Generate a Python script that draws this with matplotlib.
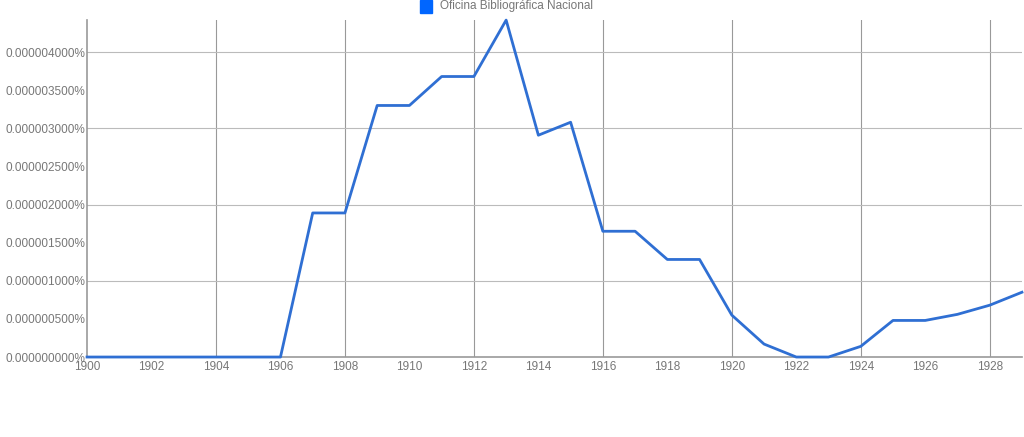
import numpy as np
import matplotlib.pyplot as plt
from matplotlib.patches import Rectangle

years = list(range(1900, 1930))
# frequency in percent
freq = [0, 0, 0, 0, 0, 0, 0,
        1.89e-6, 1.89e-6, 3.30e-6, 3.30e-6, 3.68e-6, 3.68e-6, 4.42e-6,
        2.91e-6, 3.08e-6, 1.65e-6, 1.65e-6, 1.28e-6, 1.28e-6,
        0.55e-6, 0.17e-6, 0.0, 0.0, 0.14e-6, 0.48e-6, 0.48e-6,
        0.56e-6, 0.68e-6, 0.85e-6]
series_name = "Oficina Bibliográfica Nacional"
xtick_years = list(range(1900, 1929, 2))
xgrid_years = list(range(1904, 1929, 4))
ytick_vals = [i * 0.5e-6 for i in range(9)]
ygrid_vals = [1e-6, 2e-6, 3e-6, 4e-6]

plt.rcParams['font.family'] = ['Liberation Sans', 'DejaVu Sans']

fig = plt.figure(figsize=(10.24, 4.37), dpi=100)
ax = fig.add_axes([0.085, 0.183, 0.913, 0.771])

for gx in xgrid_years:
    ax.axvline(gx, color='#999999', lw=0.8, zorder=1)
for gy in ygrid_vals:
    ax.axhline(gy, color='#bbbbbb', lw=0.8, zorder=1)

ax.plot(years, freq, color='#2f6fd3', lw=2, zorder=3, clip_on=False)

ax.set_xlim(1900, 1929)
ax.set_ylim(0, 4.42e-6)
ax.set_xticks(xtick_years)
ax.set_xticklabels([str(y) for y in xtick_years])
ax.set_yticks(ytick_vals)
ax.set_yticklabels(["%.9f%%" % v for v in ytick_vals])
ax.tick_params(length=0, labelsize=8.5, labelcolor='#777777', pad=1)
ax.tick_params(axis='x', pad=3)

for s in ['top', 'right']:
    ax.spines[s].set_visible(False)
for s in ['left', 'bottom']:
    ax.spines[s].set_color('#999999')
    ax.spines[s].set_linewidth(1.2)

# legend at top
fig.patches.append(Rectangle((420 / 1024, 1 - 13 / 437), 12 / 1024, 13 / 437,
                             transform=fig.transFigure, color='#0066ff', figure=fig))
fig.text(440 / 1024, 1 - 6 / 437, series_name, fontsize=8.5, color='#777777', va='center')

fig.savefig('out.png', dpi=100)
